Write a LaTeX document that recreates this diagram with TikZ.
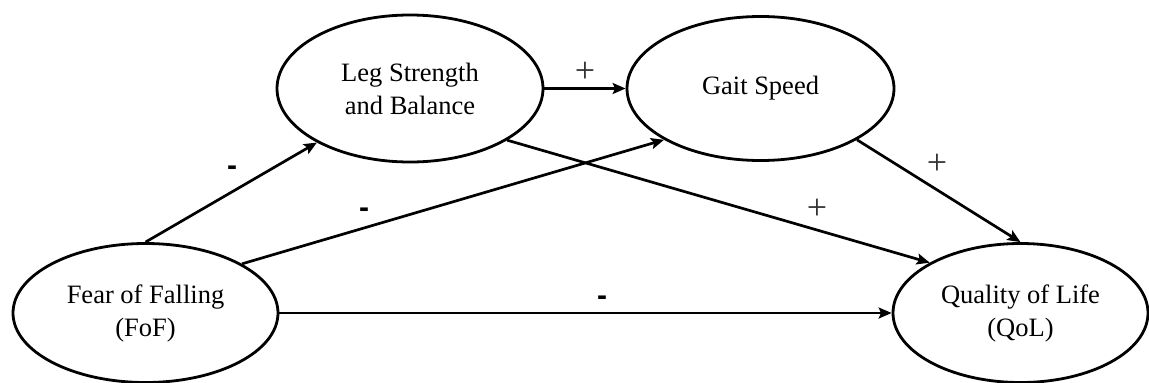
\documentclass[tikz,border=0pt]{standalone}
\usepackage{fontspec}
\setmainfont{Liberation Serif}
\newfontfamily\arialfont{Liberation Sans}
\usetikzlibrary{shapes.geometric,arrows.meta}
\begin{document}
\begin{tikzpicture}[x=1pt,y=-1pt,
  var/.style={ellipse,draw,line width=2.8pt,inner sep=0pt,align=center,
    font=\fontsize{26.5}{33}\selectfont},
  conn/.style={line width=2.7pt,-{Stealth[length=13pt,width=11pt,inset=2.5pt]}},
  pluslbl/.style={font=\fontsize{36}{36}\selectfont,text=black!80,inner sep=0pt},
  minuslbl/.style={font=\arialfont\fontsize{30}{30}\selectfont\bfseries,inner sep=0pt}]
\useasboundingbox (0,0) rectangle (1149,383);
\node[var,minimum width=266pt,minimum height=147pt] (leg) at (410,88.5) {Leg Strength\\and Balance};
\node[var,minimum width=267pt,minimum height=144pt] (gait) at (760.5,88.5) {Gait Speed};
\node[var,minimum width=265pt,minimum height=139pt] (fof) at (145.5,313) {Fear of Falling\\(FoF)};
\node[var,minimum width=255pt,minimum height=139pt] (qol) at (1020.5,313) {Quality of Life\\(QoL)};
\draw[conn] (fof.north) -- (leg);
\draw[conn] (fof.27.8) -- (gait.208.7);
\draw[conn] (leg.east) -- (gait.west);
\draw[conn] (leg.-28.7) -- (qol.151.5);
\draw[conn] (gait.-28.9) -- (qol.north);
\draw[conn] (fof.east) -- (qol.west);
\node[minuslbl] (m1) at (232,171) {-};
\node[minuslbl] (m2) at (364,213) {-};
\node[pluslbl] (p1) at (585,72) {+};
\node[pluslbl] (p2) at (817,209) {+};
\node[pluslbl] (p3) at (937,164) {+};
\node[minuslbl] (m3) at (602,301) {-};
\end{tikzpicture}
\end{document}
